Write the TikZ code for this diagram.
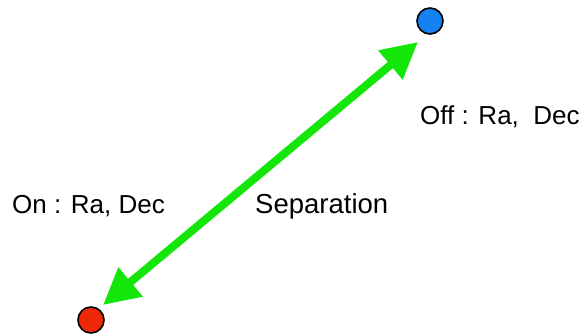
\documentclass[tikz,border=0pt]{standalone}
\usepackage{fontspec}
\setmainfont{Liberation Sans}
\usetikzlibrary{arrows.meta}
\definecolor{arrowgreen}{RGB}{20,230,10}
\definecolor{dotblue}{RGB}{20,130,240}
\definecolor{dotred}{RGB}{240,40,10}
\tikzset{
  dot/.style={circle, draw=black, line width=1.6pt, minimum size=26pt, inner sep=0pt},
  lbl/.style={font=\fontsize{26}{30}\selectfont, inner sep=0pt, anchor=west},
  sep/.style={draw=arrowgreen, line width=8pt, {Triangle[length=36pt,width=36pt]}-{Triangle[length=36pt,width=36pt]}}
}
\begin{document}
\begin{tikzpicture}[x=1pt,y=-1pt]
\useasboundingbox (0,0) rectangle (586,336);
\node[dot, fill=dotblue] (off) at (430,21) {};
\node[dot, fill=dotred] (on) at (91,320) {};
\coordinate (a) at (418,42);
\coordinate (b) at (103,305);
\draw[sep] (b) -- (a);
\node[lbl] (onl) at (12,206) {On : Ra,\ Dec};
\node[lbl, font=\fontsize{27.5}{31}\selectfont] (sepl) at (255,206) {Separation};
\node[lbl] (offl) at (420,117) {Off : Ra,\ \ Dec};
\end{tikzpicture}
\end{document}
